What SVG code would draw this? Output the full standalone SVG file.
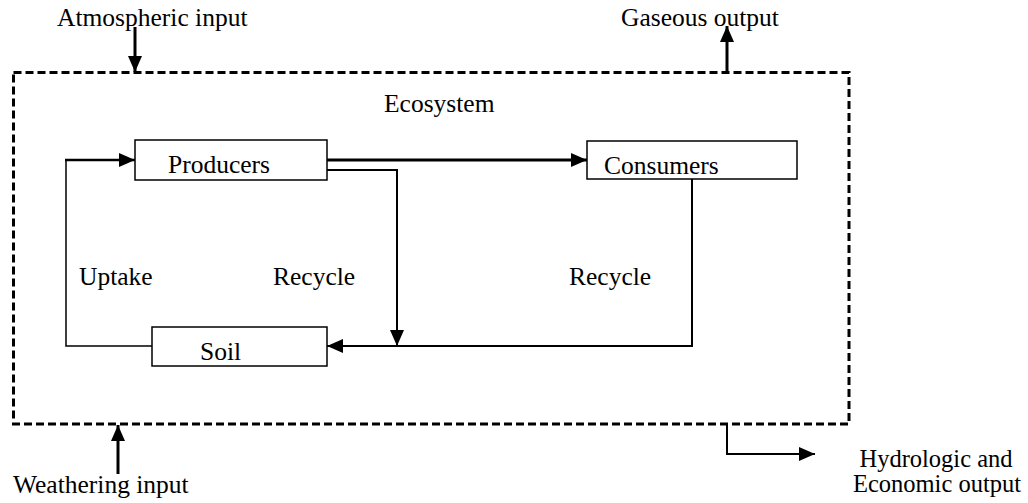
<svg xmlns="http://www.w3.org/2000/svg" width="1028" height="503" viewBox="0 0 1028 503">
<style>
text{font-family:'Liberation Serif','Times New Roman',serif;font-size:25.5px;fill:#000}
.box{fill:#fff;stroke:#000;stroke-width:1.5}
.c{fill:none;stroke:#000}
</style>
<defs>
<marker id="ah" markerUnits="userSpaceOnUse" markerWidth="20" markerHeight="14" refX="16" refY="7" orient="auto">
<path d="M0,0 L16,7 L0,14 Z" fill="#000"/>
</marker>
</defs>
<rect width="1028" height="503" fill="#fff"/>
<g id="ecosystem">
<rect x="13.5" y="72.5" width="835.5" height="351.5" fill="none" stroke="#000" stroke-width="3" stroke-dasharray="8,4"/>
<text x="384" y="112">Ecosystem</text>
</g>
<g id="connectors">
<path class="c" stroke-width="3" d="M135,27 V72" marker-end="url(#ah)"/>
<path class="c" stroke-width="3" d="M727,72 V26" marker-end="url(#ah)"/>
<path class="c" stroke-width="3" d="M118,474 V425" marker-end="url(#ah)"/>
<path class="c" stroke-width="2" d="M727,424 V454 H815" marker-end="url(#ah)"/>
<path class="c" stroke-width="3" d="M327,160 H587" marker-end="url(#ah)"/>
<path class="c" stroke-width="2" d="M327,170 H397 V346" marker-end="url(#ah)"/>
<path class="c" stroke-width="2" d="M692,179 V346 H327" marker-end="url(#ah)"/>
<path class="c" stroke-width="1.5" d="M152,346 H66 V160"/>
<path class="c" stroke-width="2.5" d="M65,160 H135" marker-end="url(#ah)"/>
</g>
<g id="producers">
<rect class="box" x="135" y="140" width="192" height="40"/>
<text x="168" y="173">Producers</text>
</g>
<g id="consumers">
<rect class="box" x="587" y="141" width="210" height="38"/>
<text x="604" y="174">Consumers</text>
</g>
<g id="soil">
<rect class="box" x="152" y="327" width="175" height="39"/>
<text x="200" y="360">Soil</text>
</g>
<g id="labels">
<text x="57" y="26">Atmospheric input</text>
<text x="621" y="26">Gaseous output</text>
<text x="79" y="285">Uptake</text>
<text x="273" y="285">Recycle</text>
<text x="569" y="285">Recycle</text>
<text x="13" y="493">Weathering input</text>
<text x="936" y="467" text-anchor="middle" style="font-size:24.5px">Hydrologic and</text>
<text x="937" y="492" text-anchor="middle" style="font-size:24.5px">Economic output</text>
</g>
</svg>
